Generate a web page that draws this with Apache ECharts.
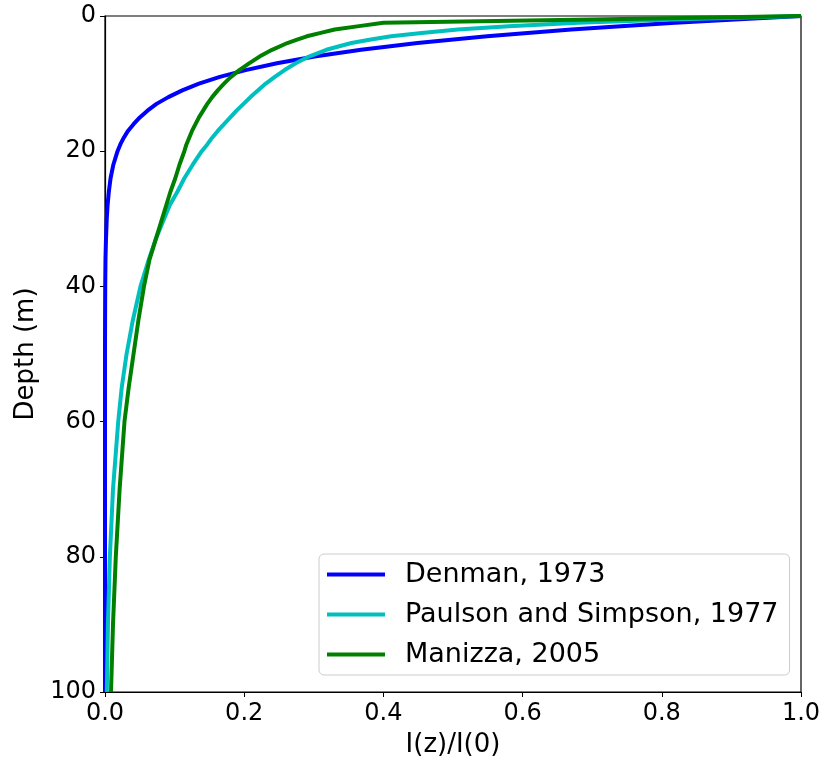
<!DOCTYPE html>
<html>
<head>
<meta charset="utf-8">
<script src="https://cdn.jsdelivr.net/npm/echarts@6/dist/echarts.min.js"></script>
<style>
  html, body { margin: 0; padding: 0; background: #ffffff; }
  #chart { width: 826px; height: 763px; }
</style>
</head>
<body>
<div id="chart"></div>
<script>
// Depth grid (m)
var depths = [0, 0.5, 1, 1.5, 2, 2.5, 3, 3.5, 4, 5, 6, 7, 8, 9, 10, 11, 12, 13, 14, 15, 16, 17, 18, 19, 20,
              22, 24, 26, 28, 30, 33, 36, 40, 45, 50, 55, 60, 70, 80, 90, 100];

// I(z)/I(0) for each model
var denman1973 = [1, 0.905, 0.819, 0.741, 0.670, 0.607, 0.549, 0.497, 0.449, 0.368, 0.301, 0.247, 0.202, 0.165, 0.135,
                  0.111, 0.091, 0.074, 0.061, 0.050, 0.041, 0.033, 0.027, 0.022, 0.018,
                  0.012, 0.008, 0.0055, 0.0037, 0.0025, 0.0014, 0.0007, 0.0003, 0.0001, 0, 0, 0, 0, 0, 0, 0];

var paulsonSimpson1977 = [1, 0.815, 0.68, 0.58, 0.507, 0.455, 0.411, 0.38, 0.354, 0.318, 0.293, 0.274, 0.258, 0.244, 0.231,
                          0.220, 0.209, 0.199, 0.189, 0.180, 0.171, 0.162, 0.154, 0.147, 0.139,
                          0.126, 0.114, 0.104, 0.093, 0.085, 0.073, 0.063, 0.051, 0.040, 0.031, 0.024, 0.019, 0.0115, 0.007, 0.0042, 0.0026];

var manizza2005 = [1, 0.70, 0.40, 0.365, 0.33, 0.31, 0.29, 0.276, 0.262, 0.240, 0.222, 0.207, 0.193, 0.181, 0.171,
                   0.162, 0.154, 0.147, 0.141, 0.135, 0.130, 0.125, 0.121, 0.117, 0.114,
                   0.107, 0.101, 0.094, 0.088, 0.082, 0.073, 0.064, 0.056, 0.048, 0.041, 0.034, 0.028, 0.021, 0.0155, 0.0115, 0.0086];

var seriesNames = ['Denman, 1973', 'Paulson and Simpson, 1977', 'Manizza, 2005'];
var seriesColors = ['#0000ff', '#00bfbf', '#008000'];
var seriesValues = [denman1973, paulsonSimpson1977, manizza2005];

var xTicks = [0, 0.2, 0.4, 0.6, 0.8, 1.0];
var yTicks = [0, 20, 40, 60, 80, 100];

function pairs(vals) {
  return vals.map(function (v, i) { return [v, depths[i]]; });
}

var FONT = 'DejaVu Sans';
var chart = echarts.init(document.getElementById('chart'), null, { renderer: 'canvas' });

var option = {
  animation: false,
  backgroundColor: '#ffffff',
  textStyle: { fontFamily: FONT },
  grid: {
    left: 105, top: 16, right: 25, bottom: 71,
    show: true, borderColor: '#000000', borderWidth: 1.2, backgroundColor: 'transparent'
  },
  xAxis: {
    type: 'value', min: xTicks[0], max: xTicks[xTicks.length - 1], interval: 0.2,
    name: 'I(z)/I(0)', nameLocation: 'middle', nameGap: 40,
    nameTextStyle: { fontSize: 26, color: '#000', fontFamily: FONT },
    axisLine: { show: true, onZero: false, lineStyle: { color: '#000', width: 1.2 } },
    axisTick: { show: true, inside: false, length: 5, lineStyle: { color: '#000', width: 1 } },
    axisLabel: { fontSize: 24, color: '#000', margin: 10, fontFamily: FONT,
      formatter: function (v) { return v.toFixed(1); } },
    splitLine: { show: false }
  },
  yAxis: {
    type: 'value', min: yTicks[0], max: yTicks[yTicks.length - 1], interval: 20, inverse: true,
    name: 'Depth (m)', nameLocation: 'middle', nameGap: 66,
    nameTextStyle: { fontSize: 26, color: '#000', fontFamily: FONT },
    axisLine: { show: true, onZero: false, lineStyle: { color: '#000', width: 1.2 } },
    axisTick: { show: true, inside: false, length: 5, lineStyle: { color: '#000', width: 1 } },
    axisLabel: { fontSize: 24, color: '#000', margin: 9, fontFamily: FONT },
    splitLine: { show: false }
  },
  legend: {
    orient: 'vertical', left: 319, top: 554,
    padding: [7, 11, 7, 8], itemGap: 13,
    itemWidth: 58, itemHeight: 4, icon: 'rect',
    backgroundColor: 'rgba(255,255,255,0.8)', borderColor: '#cccccc', borderWidth: 1, borderRadius: 5,
    textStyle: { fontSize: 27, color: '#000', fontFamily: FONT, padding: [0, 0, 0, 15] },
    data: seriesNames
  },
  series: seriesNames.map(function (name, i) {
    return {
      name: name, type: 'line', data: pairs(seriesValues[i]),
      showSymbol: false, symbol: 'none', clip: true,
      lineStyle: { color: seriesColors[i], width: 4 },
      itemStyle: { color: seriesColors[i] },
      z: 2 + i
    };
  })
};
chart.setOption(option);
</script>
</body>
</html>
